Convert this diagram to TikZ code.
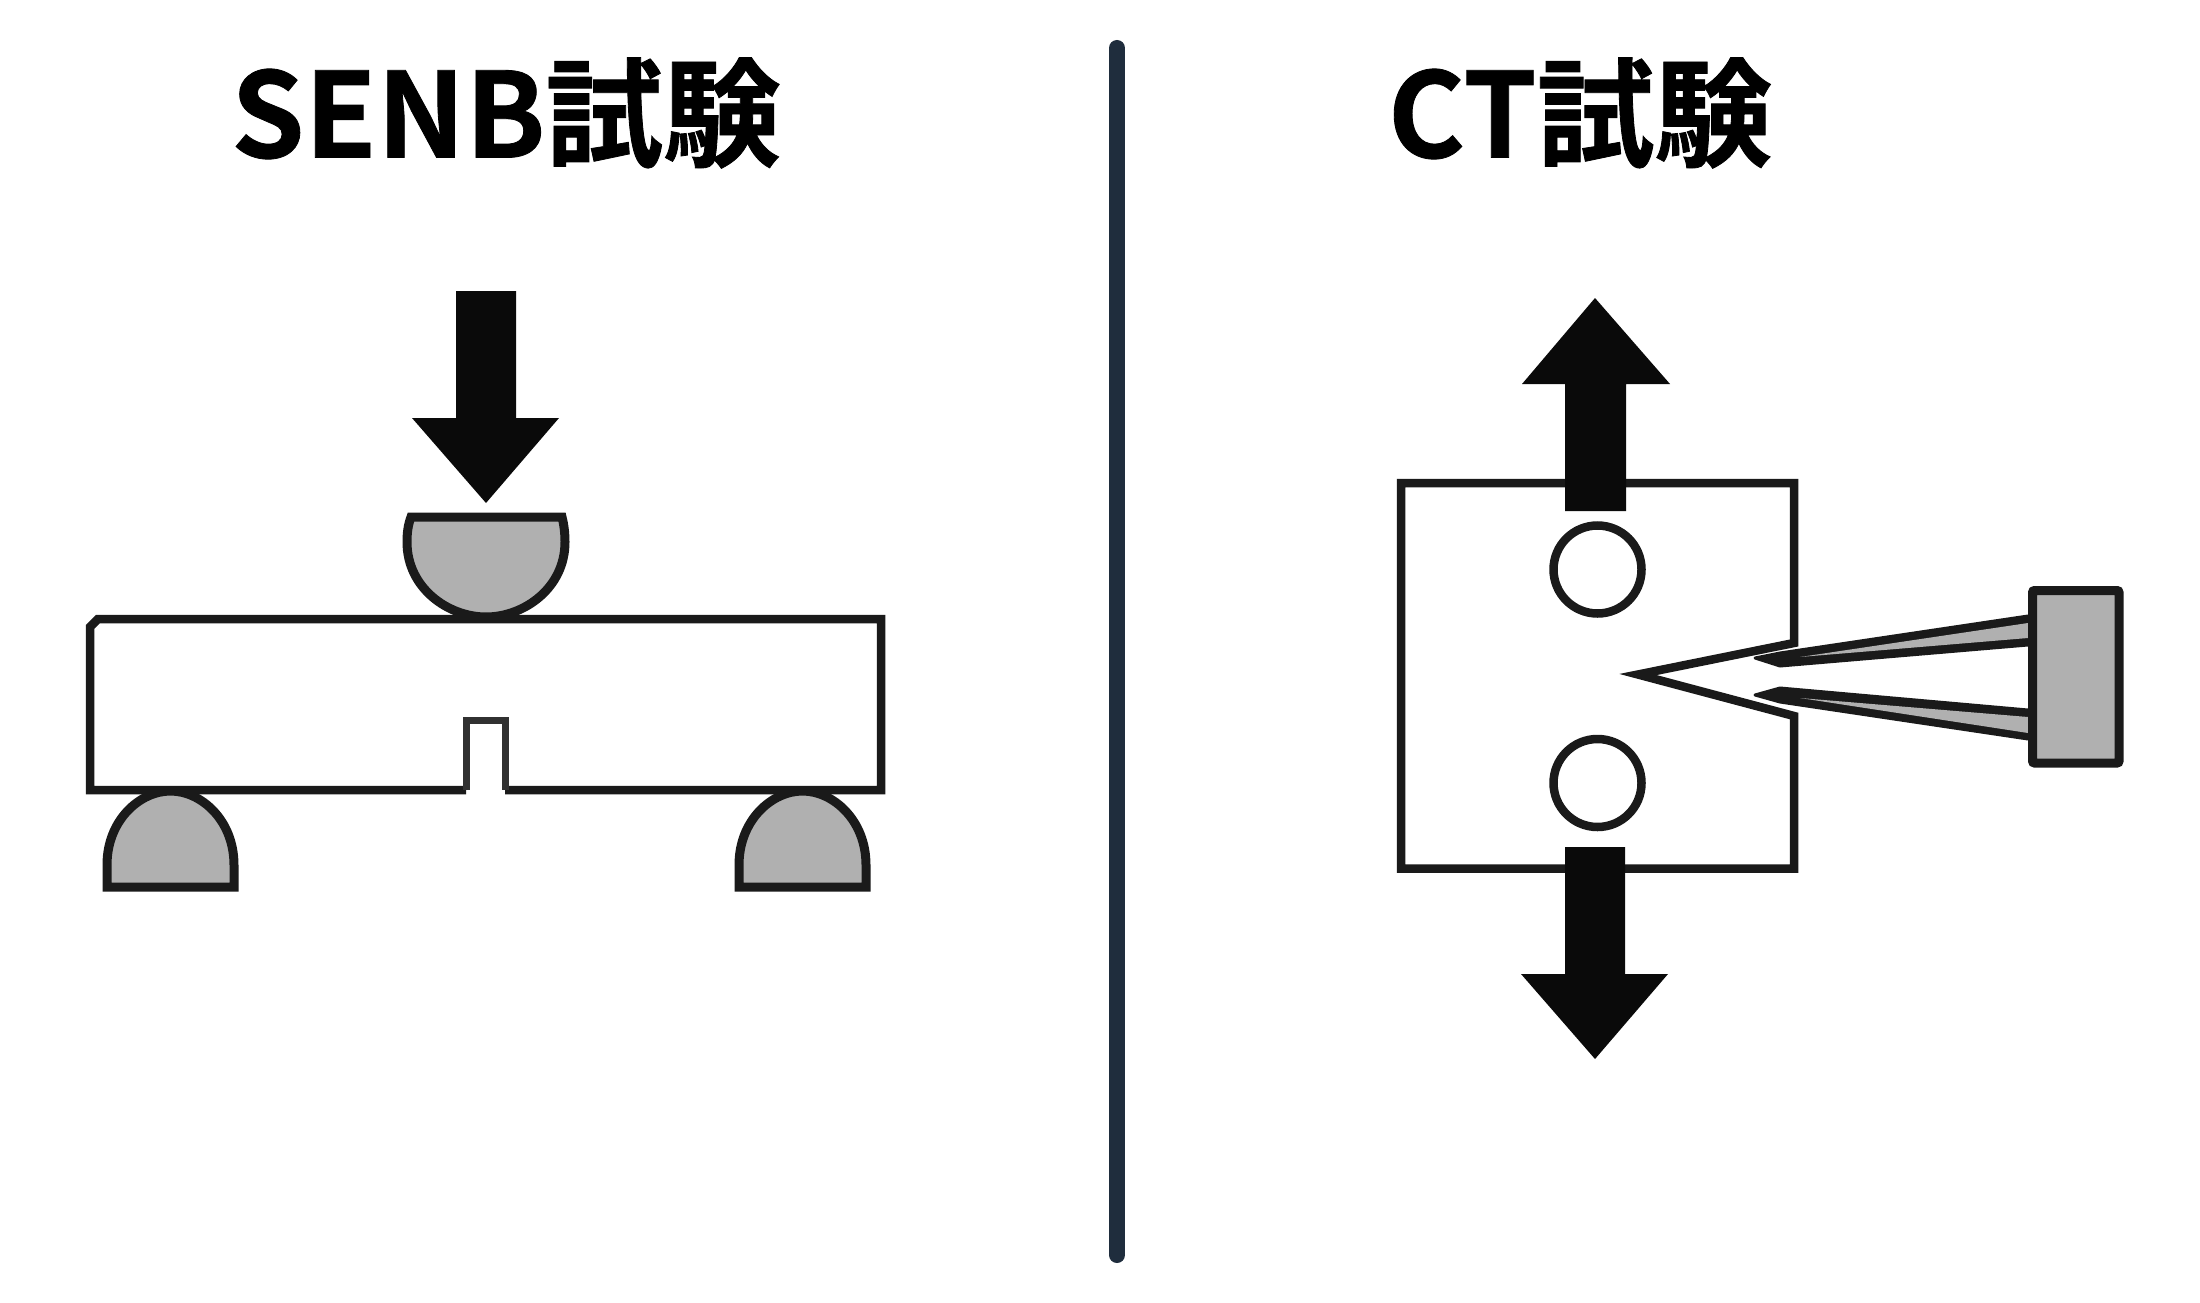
\documentclass[tikz,border=0pt]{standalone}
\usepackage{fontspec}
\setmainfont{Noto Sans CJK JP Bold}[FakeBold=0.7]
\usepackage{tikz}
\definecolor{trait}{HTML}{1A1A1A}
\definecolor{gris}{HTML}{B0B0B0}
\definecolor{sep}{HTML}{1F2D3D}
\tikzset{
    titre/.style={font=\fontsize{33.5}{33.5}\selectfont, text=black, inner sep=0pt},
    piece/.style={draw=trait, line width=0.085cm, line join=miter},
    appui/.style={draw=trait, fill=gris, line width=0.09cm},
    fleche/.style={fill=black!96!white},
    bras/.style={fill=trait, draw=trait, line width=0.03cm, line join=round}
}
\begin{document}
\begin{tikzpicture}[x=1cm,y=-1cm]
            \useasboundingbox (0,0) rectangle (22,13.02);
            \fill[white] (0,0) rectangle (22,13.02);

            % Titres
            \node[titre] (senb) at (5.06,1.13) {SENB試験};
            \node[titre] (ct) at (15.8,1.13) {CT試験};

            % Separation
            \draw[sep, line width=0.16cm, line cap=round] (11.17,0.48) -- (11.17,12.55);

            % Essai SENB : fleche
            \fill[fleche] (4.56,2.91) -- (5.16,2.91) -- (5.16,4.18) -- (5.59,4.18) -- (4.86,5.03) -- (4.12,4.18) -- (4.56,4.18) -- cycle;

            % Appui du haut
            \draw[appui] (4.11,5.17) -- (5.62,5.17) .. controls (5.64,5.25) and (5.65,5.33) .. (5.65,5.42) .. controls (5.65,5.88) and (5.24,6.17) .. (4.86,6.17) .. controls (4.48,6.17) and (4.07,5.88) .. (4.07,5.42) .. controls (4.07,5.33) and (4.08,5.25) .. (4.11,5.17) -- cycle;

            % Eprouvette
            \draw[piece] (4.66,7.9) -- (0.9,7.9) -- (0.9,6.27) -- (0.98,6.19) -- (8.81,6.19) -- (8.81,7.9) -- (5.05,7.9);
            \draw[piece, draw=trait!90!white, line width=0.07cm] (4.66,7.9) -- (4.66,7.2) -- (5.05,7.2) -- (5.05,7.9);

            % Appuis du bas
            \draw[appui] (1.07,8.87) -- (1.07,8.65) .. controls (1.07,8.2) and (1.4,7.91) .. (1.705,7.91) .. controls (2.01,7.91) and (2.34,8.2) .. (2.34,8.65) -- (2.34,8.87) -- cycle;
            \draw[appui] (7.39,8.87) -- (7.39,8.65) .. controls (7.39,8.2) and (7.72,7.91) .. (8.025,7.91) .. controls (8.33,7.91) and (8.66,8.2) .. (8.66,8.65) -- (8.66,8.87) -- cycle;

            % Essai CT : eprouvette
            \draw[piece] (17.94,6.43) -- (17.94,4.83) -- (14.01,4.83) -- (14.01,8.685) -- (17.94,8.685) -- (17.94,7.16) -- (16.38,6.745) -- cycle;

            % Trous
            \draw[piece, fill=white] (15.975,5.695) circle (0.44);
            \draw[piece, fill=white] (15.975,7.83) circle (0.44);

            % Fleches
            \fill[fleche] (15.95,2.98) -- (16.7,3.84) -- (16.26,3.84) -- (16.26,5.11) -- (15.65,5.11) -- (15.65,3.84) -- (15.22,3.84) -- cycle;
            \fill[fleche] (15.65,8.47) -- (16.25,8.47) -- (16.25,9.74) -- (16.68,9.74) -- (15.95,10.59) -- (15.21,9.74) -- (15.65,9.74) -- cycle;

            % Extensometre
            \draw[bras] (20.28,6.16) -- (17.8,6.53) -- (17.55,6.58) -- (17.8,6.66) -- (20.28,6.45) -- cycle;
            \fill[gris] (20.28,6.23) -- (18.0,6.57) -- (20.28,6.38) -- cycle;
            \draw[bras] (20.28,7.1) -- (17.8,6.88) -- (17.55,6.95) -- (17.8,7.02) -- (20.28,7.39) -- cycle;
            \fill[gris] (20.28,7.17) -- (18.0,6.98) -- (20.28,7.33) -- cycle;
            \draw[appui, rounded corners=0.02cm] (20.325,5.905) rectangle (21.19,7.63);
\end{tikzpicture}
\end{document}
